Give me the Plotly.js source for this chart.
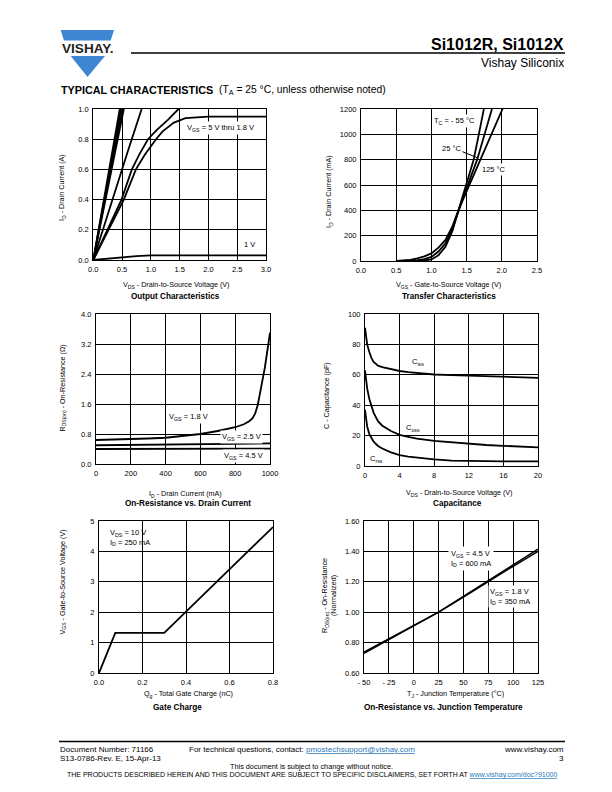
<!DOCTYPE html>
<html><head><meta charset="utf-8">
<script src="https://cdn.plot.ly/plotly-3.0.1.min.js"></script>
<style>html,body{margin:0;padding:0;background:#fff;}#chart{width:612px;height:792px;}</style>
</head><body><div id="chart"></div>
<script>
// ===== Output Characteristics: ID (A) vs VDS (V) =====
const out5V_vds = [0, 0.46];            const out5V_id = [0, 1.0];
const out45V_vds = [0, 0.48];           const out45V_id = [0, 1.0];
const out4V_vds = [0, 0.505];           const out4V_id = [0, 1.0];
const out35V_vds = [0, 0.53];           const out35V_id = [0, 1.0];
const out25V_vds = [0, 0.2, 0.4, 0.6, 0.84];
const out25V_id  = [0, 0.245, 0.485, 0.72, 1.0];
const out2V_vds = [0, 0.25, 0.49, 0.67, 0.8, 0.95, 1.1, 1.3, 1.48];
const out2V_id  = [0, 0.2, 0.4, 0.6, 0.7, 0.8, 0.86, 0.93, 1.0];
const out18V_vds = [0, 0.27, 0.53, 0.74, 0.9, 1.09, 1.2, 1.4, 1.6, 2.0, 3.0];
const out18V_id  = [0, 0.2, 0.4, 0.6, 0.7, 0.8, 0.85, 0.91, 0.94, 0.95, 0.95];
const out1V_vds = [0, 0.25, 0.5, 0.75, 1.0, 3.0];
const out1V_id  = [0, 0.01, 0.018, 0.025, 0.03, 0.03];
const outX_ticks = [0, 0.5, 1.0, 1.5, 2.0, 2.5, 3.0];
const outX_text = ['0.0','0.5','1.0','1.5','2.0','2.5','3.0'];
const outY_ticks = [0, 0.2, 0.4, 0.6, 0.8, 1.0];
const outY_text = ['0.0','0.2','0.4','0.6','0.8','1.0'];

// ===== Transfer Characteristics: ID (mA) vs VGS (V) =====
const trM55_vgs = [0.6, 0.8, 0.9, 1.0, 1.1, 1.2, 1.3, 1.39, 1.5, 1.6, 1.67, 1.745];
const trM55_id  = [0, 1, 4, 12, 45, 113, 240, 410, 610, 800, 990, 1200];
const tr25_vgs = [0.55, 0.7, 0.8, 0.9, 1.0, 1.1, 1.2, 1.3, 1.39, 1.5, 1.65, 1.75, 1.86];
const tr25_id  = [0, 2, 5, 14, 32, 75, 140, 260, 410, 575, 800, 990, 1200];
const tr125_vgs = [0.5, 0.6, 0.7, 0.8, 0.9, 1.0, 1.1, 1.2, 1.3, 1.39, 1.5, 1.7, 1.85, 2.01];
const tr125_id  = [0, 3, 8, 20, 36, 60, 105, 166, 275, 410, 548, 800, 995, 1200];
const trX_ticks = [0, 0.5, 1.0, 1.5, 2.0, 2.5];
const trX_text = ['0.0','0.5','1.0','1.5','2.0','2.5'];
const trY_ticks = [0, 200, 400, 600, 800, 1000, 1200];
const trY_text = ['0','200','400','600','800','1000','1200'];

// ===== On-Resistance vs Drain Current =====
const ron18_id = [0, 100, 200, 300, 400, 500, 600, 700, 800, 850, 880, 900, 915, 930, 950, 970, 990, 1000];
const ron18_r  = [0.64, 0.65, 0.66, 0.68, 0.70, 0.74, 0.80, 0.88, 0.98, 1.06, 1.14, 1.22, 1.35, 1.58, 2.07, 2.56, 3.18, 3.5];
const ron25_id = [0, 500, 1000];        const ron25_r = [0.50, 0.52, 0.55];
const ron45_id = [0, 500, 1000];        const ron45_r = [0.40, 0.405, 0.41];
const ronX_ticks = [0, 200, 400, 600, 800, 1000];
const ronX_text = ['0','200','400','600','800','1000'];
const ronY_ticks = [0, 0.8, 1.6, 2.4, 3.2, 4.0];
const ronY_text = ['0.0','0.8','1.6','2.4','3.2','4.0'];

// ===== Capacitance vs VDS =====
const cap_vds = [0, 0.1, 0.25, 0.5, 0.75, 1, 1.5, 2, 3, 4, 5, 6, 8, 10, 12, 14, 16, 18, 20];
const cap_ciss = [91, 86, 80, 75, 71, 68.5, 66, 65, 63.5, 62.5, 61.8, 61.2, 60.2, 59.8, 59.4, 59.1, 58.8, 58.4, 58];
const cap_coss = [63, 58, 51, 44, 39, 35, 29.5, 26.5, 23, 20.5, 19.2, 18, 16.5, 15.5, 14.5, 13.8, 13.3, 12.8, 12.3];
const cap_crss = [37, 32, 26, 21, 18, 16, 13.2, 11.5, 9, 7.2, 6.2, 5.5, 4.3, 3.5, 3.2, 3.1, 3.0, 3.0, 3.0];
const capX_ticks = [0, 4, 8, 12, 16, 20];
const capX_text = ['0','4','8','12','16','20'];
const capY_ticks = [0, 20, 40, 60, 80, 100];
const capY_text = ['0','20','40','60','80','100'];

// ===== Gate Charge =====
const gate_qg = [0, 0.075, 0.3, 0.8];
const gate_vgs = [0, 1.32, 1.32, 4.8];
const gateX_ticks = [0, 0.2, 0.4, 0.6, 0.8];
const gateX_text = ['0.0','0.2','0.4','0.6','0.8'];
const gateY_ticks = [0, 1, 2, 3, 4, 5];
const gateY_text = ['0','1','2','3','4','5'];

// ===== On-Resistance vs Junction Temperature =====
const tj_temp = [-50, -25, 0, 25, 50, 75, 100, 125];
const tj_r45 = [0.73, 0.82, 0.912, 1.0, 1.104, 1.21, 1.312, 1.415];
const tj_r18 = [0.737, 0.825, 0.916, 1.0, 1.10, 1.203, 1.302, 1.40];
const tjX_ticks = [-50, -25, 0, 25, 50, 75, 100, 125];
const tjX_text = ['- 50','- 25','0','25','50','75','100','125'];
const tjY_ticks = [0.6, 0.8, 1.0, 1.2, 1.4, 1.6];
const tjY_text = ['0.60','0.80','1.00','1.20','1.40','1.60'];

// ---------------------------------------------------------------
const F = 'Liberation Sans, Arial, Helvetica, sans-serif';
const W = 612, H = 792;
const P = x => x / W;
const Q = y => 1 - y / H;

// plot rectangles in pixels [left, right, top, bottom]
const rects = [
  [93.3, 266, 109, 260],
  [361, 537, 109, 261],
  [96, 270, 314, 464],
  [365, 538, 314, 466],
  [99, 273, 521, 673],
  [364, 538, 521, 673]
];
const axes = [
  {xr:[0,3], xt:outX_ticks, xs:outX_text, yr:[0,1], yt:outY_ticks, ys:outY_text},
  {xr:[0,2.5], xt:trX_ticks, xs:trX_text, yr:[0,1200], yt:trY_ticks, ys:trY_text},
  {xr:[0,1000], xt:ronX_ticks, xs:ronX_text, yr:[0,4], yt:ronY_ticks, ys:ronY_text},
  {xr:[0,20], xt:capX_ticks, xs:capX_text, yr:[0,100], yt:capY_ticks, ys:capY_text},
  {xr:[0,0.8], xt:gateX_ticks, xs:gateX_text, yr:[0,5], yt:gateY_ticks, ys:gateY_text},
  {xr:[-50,125], xt:tjX_ticks, xs:tjX_text, yr:[0.6,1.6], yt:tjY_ticks, ys:tjY_text}
];

const traces = [];
function line(xs, ys, n, w) {
  const s = n > 1 ? String(n) : '';
  traces.push({x: xs, y: ys, xaxis: 'x' + s, yaxis: 'y' + s, mode: 'lines',
    line: {color: '#000', width: w || 1.8}, hoverinfo: 'skip', showlegend: false});
}
line(out5V_vds, out5V_id, 1); line(out45V_vds, out45V_id, 1);
line(out4V_vds, out4V_id, 1); line(out35V_vds, out35V_id, 1);
line(out25V_vds, out25V_id, 1); line(out2V_vds, out2V_id, 1);
line(out18V_vds, out18V_id, 1); line(out1V_vds, out1V_id, 1);
line(trM55_vgs, trM55_id, 2); line(tr25_vgs, tr25_id, 2); line(tr125_vgs, tr125_id, 2);
line(ron18_id, ron18_r, 3); line(ron25_id, ron25_r, 3); line(ron45_id, ron45_r, 3);
line(cap_vds, cap_ciss, 4); line(cap_vds, cap_coss, 4); line(cap_vds, cap_crss, 4);
line(gate_qg, gate_vgs, 5);
line(tj_temp, tj_r45, 6, 1.5); line(tj_temp, tj_r18, 6, 1.5);

const layout = {
  width: W, height: H, margin: {l:0, r:0, t:0, b:0},
  paper_bgcolor: '#fff', plot_bgcolor: '#fff', showlegend: false,
  font: {family: F, color: '#000'},
  annotations: [], shapes: []
};
rects.forEach((r, i) => {
  const s = i ? String(i + 1) : '';
  const a = axes[i];
  const common = {showgrid: true, gridcolor: '#000', gridwidth: 1, showline: true,
    linecolor: '#000', linewidth: 1, mirror: true, zeroline: false, ticks: '',
    tickmode: 'array', tickfont: {family: F, size: 7.5, color: '#000'}, fixedrange: true};
  layout['xaxis' + s] = Object.assign({}, common, {domain: [P(r[0]), P(r[1])], range: a.xr,
    tickvals: a.xt, ticktext: a.xs, anchor: 'y' + s, ticklabelstandoff: 2});
  layout['yaxis' + s] = Object.assign({}, common, {domain: [Q(r[3]), Q(r[2])], range: a.yr,
    tickvals: a.yt, ticktext: a.ys, anchor: 'x' + s, ticklabelstandoff: 2});
});

const ann = layout.annotations;
function txt(t, x, y, o) {
  ann.push(Object.assign({text: t, x: P(x), y: Q(y), xref: 'paper', yref: 'paper', showarrow: false,
    xanchor: 'center', yanchor: 'middle', font: {family: F, size: 7.2, color: '#000'}}, o || {}));
}
function dtxt(t, n, x, y, o) {
  const s = n > 1 ? String(n) : '';
  ann.push(Object.assign({text: t, x: x, y: y, xref: 'x' + s, yref: 'y' + s, showarrow: false,
    xanchor: 'center', yanchor: 'middle', font: {family: F, size: 7.5, color: '#000'}}, o || {}));
}
const bold8 = {font: {family: F, size: 8.2, color: '#000', weight: 'bold'}};
const rot = {textangle: -90};

// axis titles & chart titles
txt('V<sub>DS</sub> - Drain-to-Source Voltage (V)', 176, 285);
txt('<b>Output Characteristics</b>', 175, 296, bold8);
txt('I<sub>D</sub> - Drain Current (A)', 62, 188, rot);

txt('V<sub>GS</sub> - Gate-to-Source Voltage (V)', 449, 285);
txt('<b>Transfer Characteristics</b>', 449, 296, bold8);
txt('I<sub>D</sub> - Drain Current (mA)', 329, 192, rot);

txt('I<sub>D</sub> - Drain Current (mA)', 186, 494);
txt('<b>On-Resistance vs. Drain Current</b>', 188, 503.5, bold8);
txt('R<sub>DS(on)</sub> - On-Resistance (Ω)', 62.5, 388, rot);

txt('V<sub>DS</sub> - Drain-to-Source Voltage (V)', 459, 493);
txt('<b>Capacitance</b>', 457, 503.5, bold8);
txt('C - Capacitance (pF)', 326, 396, rot);

txt('Q<sub>g</sub> - Total Gate Charge (nC)', 188, 694);
txt('<b>Gate Charge</b>', 177, 707, bold8);
txt('V<sub>GS</sub> - Gate-to-Source Voltage (V)', 62.5, 582, rot);

txt('T<sub>J</sub> - Junction Temperature (°C)', 455, 694);
txt('<b>On-Resistance vs. Junction Temperature</b>', 443.5, 707, bold8);
txt('R<sub>DS(on)</sub> - On-Resistance<br>(Normalized)', 329, 596, rot);

// in-chart labels
const wb = {bgcolor: '#fff', borderpad: 1};
dtxt('V<sub>GS</sub> = 5 V thru 1.8 V', 1, 2.21, 0.874, wb);
dtxt('1 V', 1, 2.72, 0.10);
dtxt('T<sub>C</sub> = - 55 °C', 2, 1.33, 1105, wb);
dtxt('25 °C', 2, 1.28, 892, wb);
dtxt('125 °C', 2, 1.886, 726, wb);
dtxt('V<sub>GS</sub> = 1.8 V', 3, 529, 1.25, wb);
dtxt('V<sub>GS</sub> = 2.5 V', 3, 836, 0.73, wb);
dtxt('V<sub>GS</sub> = 4.5 V', 3, 848, 0.21, wb);
dtxt('C<sub>iss</sub>', 4, 6.09, 68.2);
dtxt('C<sub>oss</sub>', 4, 5.59, 25.2);
dtxt('C<sub>rss</sub>', 4, 1.35, 4.6);
dtxt('V<sub>DS</sub> = 10 V<br>I<sub>D</sub> = 250 mA', 5, 0.041, 4.45, {xanchor: 'left', align: 'left'});
dtxt('V<sub>GS</sub> = 4.5 V<br>I<sub>D</sub> = 600 mA', 6, 34.5, 1.351, {xanchor: 'left', align: 'left', bgcolor: '#fff', borderpad: 2});
dtxt('V<sub>GS</sub> = 1.8 V<br>I<sub>D</sub> = 350 mA', 6, 74.7, 1.104, {xanchor: 'left', align: 'left', bgcolor: '#fff', borderpad: 1});

// arrow for 25 °C
layout.shapes.push({type: 'line', xref: 'x2', yref: 'y2', x0: 1.406, y0: 871, x1: 1.65, y1: 816,
  line: {color: '#000', width: 1}});

// ---- header ----
const blue = '#3f86d2';
function poly(pts) {
  return 'M' + pts.map(p => P(p[0]) + ',' + Q(p[1])).join(' L') + ' Z';
}
layout.shapes.push({type: 'path', xref: 'paper', yref: 'paper', layer: 'above',
  path: poly([[60.7, 30], [114, 30], [110.7, 40.5], [64, 40.5]]), fillcolor: blue, line: {width: 0}});
layout.shapes.push({type: 'path', xref: 'paper', yref: 'paper', layer: 'above',
  path: poly([[70.7, 56], [105, 56], [87.5, 77]]), fillcolor: blue, line: {width: 0}});
txt('<b>VISHAY.</b>', 87.5, 48.3, {font: {family: F, size: 13.6, color: '#231f20'}});
layout.shapes.push({type: 'line', xref: 'paper', yref: 'paper', x0: P(131), x1: P(565), y0: Q(53), y1: Q(53),
  line: {color: '#000', width: 1.3}});
txt('<b>Si1012R, Si1012X</b>', 566, 44, {xanchor: 'right', font: {family: F, size: 16, color: '#000'}});
txt('Vishay Siliconix', 566, 62.5, {xanchor: 'right', font: {family: F, size: 12, color: '#000'}});
txt('<b>TYPICAL CHARACTERISTICS</b>', 58.5, 90, {xanchor: 'left', font: {family: F, size: 10.8, color: '#000'}});
txt('(T<sub>A</sub> = 25 °C, unless otherwise noted)', 216.5, 90.5, {xanchor: 'left', font: {family: F, size: 10.3, color: '#000'}});

// ---- footer ----
layout.shapes.push({type: 'line', xref: 'paper', yref: 'paper', x0: P(59), x1: P(565), y0: Q(741.5), y1: Q(741.5),
  line: {color: '#000', width: 1.5}});
const f8 = {family: F, size: 8, color: '#000'};
const linkC = '#2a7ab8';
txt('Document Number: 71166', 58, 749, {xanchor: 'left', font: f8});
txt('S13-0786-Rev. E, 15-Apr-13', 58, 758, {xanchor: 'left', font: f8});
txt('For technical questions, contact: <span style="color:' + linkC + '"><u>pmostechsupport@vishay.com</u></span>', 187, 749, {xanchor: 'left', font: f8});
txt('www.vishay.com', 566, 749, {xanchor: 'right', font: f8});
txt('3', 566, 758, {xanchor: 'right', font: f8});
txt('This document is subject to change without notice.', 311, 766, {font: {family: F, size: 7.3, color: '#000'}});
txt('THE PRODUCTS DESCRIBED HEREIN AND THIS DOCUMENT ARE SUBJECT TO SPECIFIC DISCLAIMERS, SET FORTH AT <span style="color:' + linkC + '"><u>www.vishay.com/doc?91000</u></span>', 312, 774.5, {font: {family: F, size: 7.0, color: '#000'}});

Plotly.newPlot('chart', traces, layout, {staticPlot: true, displayModeBar: false});
</script>
</body></html>
